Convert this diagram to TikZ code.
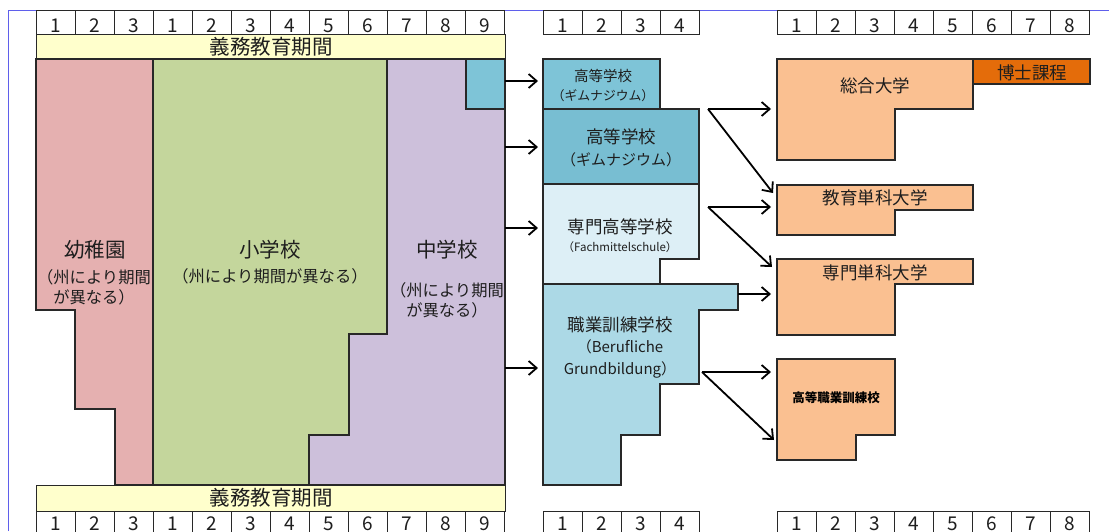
\documentclass[tikz,border=0pt]{standalone}
\usepackage{fontspec}
\setmainfont{Noto Sans CJK JP}
\usetikzlibrary{arrows.meta}
\definecolor{cpink}{RGB}{229,176,176}
\definecolor{cgreen}{RGB}{196,214,156}
\definecolor{cpurple}{RGB}{205,192,219}
\definecolor{cgym}{RGB}{126,196,215}
\definecolor{cgymb}{RGB}{120,190,210}
\definecolor{cfach}{RGB}{221,239,246}
\definecolor{cberuf}{RGB}{172,217,230}
\definecolor{corange}{RGB}{250,192,145}
\definecolor{cdoc}{RGB}{228,108,10}
\definecolor{cyellow}{RGB}{255,255,204}
\definecolor{cframe}{RGB}{95,95,235}
\definecolor{cline}{RGB}{40,40,40}
\definecolor{ctext}{RGB}{30,30,30}
\begin{document}
\begin{tikzpicture}[x=1pt,y=-1pt,
  reg/.style={draw=cline, line width=1.1pt},
  band/.style={draw=cline, line width=0.9pt, fill=cyellow},
  cell/.style={draw=cline, line width=0.9pt, minimum width=39pt, minimum height=24pt,
    inner sep=0pt, anchor=north west, text height=20pt, text depth=0pt,
    font=\fontsize{19}{20}\selectfont, text=ctext},
  bcell/.style={cell, minimum height=28pt, text height=10pt},
  big/.style={font=\fontsize{20.5}{22}\selectfont, text=ctext, align=center, inner sep=0pt},
  mid/.style={font=\fontsize{17.5}{20}\selectfont, text=ctext, align=center, inner sep=0pt},
  small/.style={font=\fontsize{16.3}{20}\selectfont, text=ctext, align=center, inner sep=0pt},
  arr/.style={-{Straight Barb[length=8pt,width=14pt,line width=1.8pt]}, line width=1.8pt, black}]
\useasboundingbox (0,0) rectangle (1109,531);
\clip (0,0) rectangle (1109,531);

% frame
\draw[cframe, line width=1pt] (8,531) -- (8,10) -- (1109,10);

% ---- year grids ----
\foreach [count=\k] \n in {1,2,3,1,2,3,4,5,6,7,8,9} {
  \node[cell] (tl\k) at ({36+39*(\k-1)},10) {\n};
  \node[bcell] (bl\k) at ({36+39*(\k-1)},511) {\n};
}
\foreach \k in {1,...,4} {
  \node[cell] (tm\k) at ({543+39*(\k-1)},10) {\k};
  \node[bcell] (bm\k) at ({543+39*(\k-1)},511) {\k};
}
\foreach \k in {1,...,8} {
  \node[cell] (tr\k) at ({777+39*(\k-1)},10) {\k};
  \node[bcell] (br\k) at ({777+39*(\k-1)},511) {\k};
}

% ---- compulsory education bands ----
\draw[band] (36,34) rectangle (505,59);
\node[big] (ctop) at (271,47) {義務教育期間};
\draw[band] (36,485) rectangle (505,511);
\node[big] (cbot) at (271,498) {義務教育期間};

% ---- left column ----
\filldraw[reg, fill=cpink] (36,59) -- (153,59) -- (153,485) -- (115,485) -- (115,409)
  -- (75,409) -- (75,310) -- (36,310) -- cycle;
\filldraw[reg, fill=cgreen] (153,59) -- (387,59) -- (387,334) -- (349,334) -- (349,435)
  -- (309,435) -- (309,485) -- (153,485) -- cycle;
\filldraw[reg, fill=cpurple] (387,59) -- (505,59) -- (505,485) -- (309,485) -- (309,435)
  -- (349,435) -- (349,334) -- (387,334) -- cycle;
\filldraw[reg, fill=cgym] (466,59) rectangle (505,109);

\node[big] (kg) at (95,250) {幼稚園};
\node[small] (kgs) at (94,287) {（州により期間\\が異なる）};
\node[big] (ps) at (270,250) {小学校};
\node[small] (pss) at (270,276) {（州により期間が異なる）};
\node[big] (ms) at (447,250) {中学校};
\node[small] (mss) at (447,300) {（州により期間\\が異なる）};

% ---- middle column ----
\filldraw[reg, fill=cgym] (543,59) rectangle (660,109);
\filldraw[reg, fill=cgymb] (543,109) rectangle (699,184);
\filldraw[reg, fill=cfach] (543,184) -- (699,184) -- (699,259) -- (660,259) -- (660,284)
  -- (543,284) -- cycle;
\filldraw[reg, fill=cberuf] (543,284) -- (738,284) -- (738,310) -- (699,310) -- (699,384)
  -- (660,384) -- (660,435) -- (621,435) -- (621,485) -- (543,485) -- cycle;

\node[font=\fontsize{14.5}{16}\selectfont, text=ctext, inner sep=0pt] (g1a) at (603,76) {高等学校};
\node[font=\fontsize{12.8}{15}\selectfont, text=ctext, inner sep=0pt] (g1b) at (603,96) {（ギムナジウム）};
\node[mid] (g2a) at (621,137) {高等学校};
\node[font=\fontsize{15}{18}\selectfont, text=ctext, inner sep=0pt] (g2b) at (621,160) {（ギムナジウム）};
\node[mid] (fa) at (620,227) {専門高等学校};
\node[font=\fontsize{11.5}{13}\selectfont, text=ctext, inner sep=0pt] (fb) at (620,247) {（Fachmittelschule）};
\node[mid] (va) at (620,325) {職業訓練学校};
\node[font=\fontsize{15}{22}\selectfont, text=ctext, align=center, inner sep=0pt] (vb) at (620,359)
  {（Berufliche\\Grundbildung）};

% ---- right column ----
\filldraw[reg, fill=corange] (777,59) -- (973,59) -- (973,109) -- (895,109) -- (895,160)
  -- (777,160) -- cycle;
\filldraw[reg, fill=cdoc] (973,59) rectangle (1090,84);
\filldraw[reg, fill=corange] (777,185) -- (973,185) -- (973,210) -- (895,210) -- (895,235)
  -- (777,235) -- cycle;
\filldraw[reg, fill=corange] (777,259) -- (973,259) -- (973,284) -- (895,284) -- (895,335)
  -- (777,335) -- cycle;
\filldraw[reg, fill=corange] (777,359) -- (895,359) -- (895,435) -- (856,435) -- (856,460)
  -- (777,460) -- cycle;

\node[mid] (uni) at (875,86) {総合大学};
\node[mid] (doc) at (1032,73) {博士課程};
\node[mid] (edu) at (875,198) {教育単科大学};
\node[mid] (fh) at (875,273) {専門単科大学};
\node[font=\fontsize{12.5}{15}\selectfont\bfseries, text=black, inner sep=0pt] (hv) at (836,398) {高等職業訓練校};

% ---- connector end points ----
\coordinate (s1) at (505,81);  \coordinate (e1) at (538,81);
\coordinate (s2) at (505,147); \coordinate (e2) at (538,147);
\coordinate (s3) at (505,228); \coordinate (e3) at (538,228);
\coordinate (s4) at (505,368); \coordinate (e4) at (538,368);
\coordinate (gv) at (708,109);
\coordinate (guni) at (771,109); \coordinate (gedu) at (773,193);
\coordinate (fv) at (708,207);
\coordinate (fedu) at (771,207); \coordinate (ffh) at (772,267);
\coordinate (vs) at (738,294); \coordinate (vfh) at (771,294);
\coordinate (vv) at (702,372);
\coordinate (vhv1) at (771,372); \coordinate (vhv2) at (774,440);

\draw[arr] (s1) -- (e1);
\draw[arr] (s2) -- (e2);
\draw[arr] (s3) -- (e3);
\draw[arr] (s4) -- (e4);
\draw[arr] (gv) -- (guni);
\draw[arr] (gv) -- (gedu);
\draw[arr] (fv) -- (fedu);
\draw[arr] (fv) -- (ffh);
\draw[arr] (vs) -- (vfh);
\draw[arr] (vv) -- (vhv1);
\draw[arr] (vv) -- (vhv2);
\end{tikzpicture}
\end{document}
